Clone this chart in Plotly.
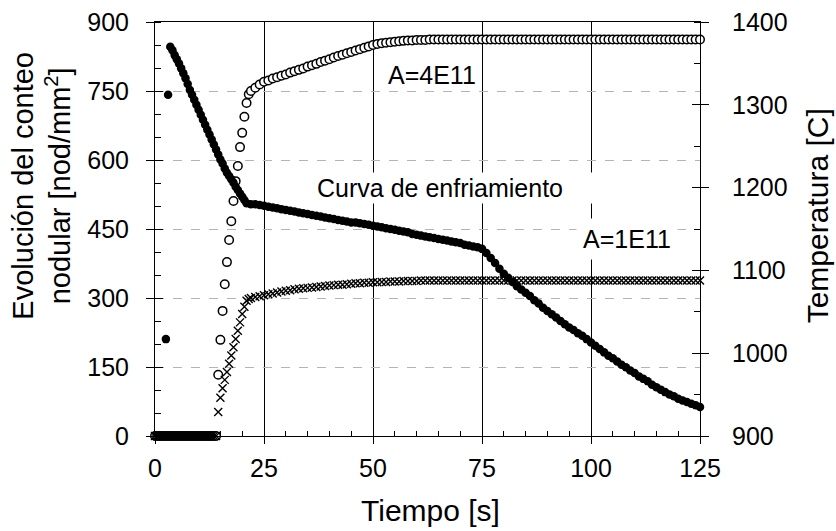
import plotly.graph_objects as go

# ---- data ----
# cooling curve (temperature, right axis)
t_temp_fine = [2.5, 3.0, 3.5, 4.0, 4.5, 5.0, 5.5, 6.0, 6.5, 7.0, 7.5, 8.0, 8.5, 9.0, 9.5,
               10.0, 10.5, 11.0, 11.5, 12.0, 12.5, 13.0, 13.5, 14.0, 14.5, 15.0, 15.5,
               16.0, 16.5, 17.0, 17.5, 18.0, 18.5, 19.0, 19.5, 20.0, 20.5, 21.0]
t_temp_coarse = list(range(22, 126))
t_temp = t_temp_fine + t_temp_coarse
temperature = [
    1017, 1312, 1370, 1366, 1360, 1355, 1350, 1344, 1338, 1332,
    1325, 1318, 1312, 1306, 1300, 1294, 1288, 1282, 1276, 1270,
    1264, 1258, 1252, 1246, 1240, 1234, 1229, 1223, 1218, 1214,
    1210, 1206, 1201, 1197, 1193, 1189, 1185, 1181,
    1180, 1180, 1179, 1178, 1177, 1176, 1175, 1174, 1173, 1172,
    1171, 1170, 1169, 1168, 1167, 1166, 1165, 1164, 1163, 1162,
    1161, 1160, 1159, 1158, 1158, 1157, 1156, 1155, 1154, 1153,
    1152, 1151, 1150, 1149, 1148, 1147, 1146, 1144, 1143, 1142,
    1141, 1140, 1139, 1138, 1137, 1136, 1135, 1134, 1133, 1131,
    1130, 1129, 1128, 1126, 1121, 1115, 1109, 1102, 1096, 1091,
    1086, 1081, 1077, 1073, 1069, 1064, 1060, 1055, 1051, 1047,
    1043, 1039, 1035, 1031, 1028, 1024, 1021, 1017, 1013, 1009,
    1005, 1001, 997, 994, 990, 986, 983, 979, 976, 972,
    969, 966, 962, 959, 956, 953, 950, 948, 945, 943,
    941, 939, 937, 935]

# nodule count series (left axis)
t_nod_fine = [0.0, 0.5, 1.0, 1.5, 2.0, 2.5, 3.0, 3.5, 4.0, 4.5, 5.0, 5.5, 6.0, 6.5, 7.0,
              7.5, 8.0, 8.5, 9.0, 9.5, 10.0, 10.5, 11.0, 11.5, 12.0, 12.5, 13.0, 13.5, 14.0,
              14.5, 15.0, 15.5, 16.0, 16.5, 17.0, 17.5, 18.0, 18.5, 19.0, 19.5, 20.0, 20.5,
              21.0, 21.5]
t_nod_coarse = list(range(22, 126))
t_nod = t_nod_fine + t_nod_coarse

nod_4e11 = [
    0, 0, 0, 0, 0, 0, 0, 0, 0, 0, 0, 0, 0, 0, 0, 0, 0, 0, 0, 0, 0, 0, 0, 0, 0, 0, 0, 0, 0,
    133, 209, 272, 330, 378, 426, 467, 511, 554, 587, 628, 659, 694, 724, 743,
    750, 757, 764, 770, 773, 777, 780, 783, 786, 790,
    793, 796, 799, 803, 806, 809, 813, 816, 819, 823,
    826, 829, 832, 835, 838, 841, 844, 847, 850, 852,
    854, 855, 856, 857, 858, 859, 860, 860, 861, 861,
    861, 862, 862, 862, 862, 862, 862, 862, 862, 862,
    862, 862, 862, 862, 862, 862, 862, 862, 862, 862,
    862, 862, 862, 862, 862, 862, 862, 862, 862, 862,
    862, 862, 862, 862, 862, 862, 862, 862, 862, 862,
    862, 862, 862, 862, 862, 862, 862, 862, 862, 862,
    862, 862, 862, 862, 862, 862, 862, 862, 862, 862,
    862, 862, 862, 862]

nod_1e11 = [
    0, 0, 0, 0, 0, 0, 0, 0, 0, 0, 0, 0, 0, 0, 0, 0, 0, 0, 0, 0, 0, 0, 0, 0, 0, 0, 0, 0, 0,
    52, 83, 104, 122, 139, 157, 175, 193, 211, 229, 247, 265, 281, 294, 298,
    300, 302, 304, 306, 308, 310, 312, 314, 316, 317,
    319, 320, 321, 322, 323, 324, 325, 326, 327, 328,
    329, 329, 330, 331, 332, 332, 333, 333, 334, 334,
    335, 335, 336, 336, 336, 337, 337, 337, 337, 338,
    338, 338, 338, 338, 338, 338, 338, 338, 338, 338,
    338, 338, 338, 338, 338, 338, 338, 338, 338, 338,
    338, 338, 338, 338, 338, 338, 338, 338, 338, 338,
    338, 338, 338, 338, 338, 338, 338, 338, 338, 338,
    338, 338, 338, 338, 338, 338, 338, 338, 338, 338,
    338, 338, 338, 338, 338, 338, 338, 338, 338, 338,
    338, 338, 338, 338]

x_ticks = [0, 25, 50, 75, 100, 125]
y_left_ticks = [0, 150, 300, 450, 600, 750, 900]
y_right_ticks = [900, 1000, 1100, 1200, 1300, 1400]

FONT = "Liberation Sans, Arial, sans-serif"

fig = go.Figure()

fig.add_trace(go.Scatter(
    x=t_temp, y=temperature, mode="markers", yaxis="y2", cliponaxis=False,
    marker=dict(symbol="circle", size=8.5, color="black"),
    showlegend=False))

fig.add_trace(go.Scatter(
    x=t_nod, y=nod_4e11, mode="markers", yaxis="y", cliponaxis=False,
    marker=dict(symbol="circle", size=8.5, color="white",
                line=dict(color="black", width=1.5)),
    showlegend=False))

fig.add_trace(go.Scatter(
    x=t_nod, y=nod_1e11, mode="markers", yaxis="y", cliponaxis=False,
    marker=dict(symbol="x-thin-open", size=8, color="black",
                line=dict(color="black", width=1.4)),
    showlegend=False))

# empty traces to carry the inner-tick overlay axes
fig.add_trace(go.Scatter(x=[], y=[], yaxis="y3", showlegend=False))
fig.add_trace(go.Scatter(x=[], y=[], yaxis="y4", showlegend=False))

tickfont = dict(family=FONT, size=25, color="black")

fig.update_layout(
    width=836, height=531,
    margin=dict(l=155, r=136, t=22, b=95, autoexpand=False),
    paper_bgcolor="white", plot_bgcolor="white",
    font=dict(family=FONT, color="black"),
    xaxis=dict(
        range=[0, 125], tickvals=x_ticks, ticktext=[str(v) for v in x_ticks],
        ticks="outside", ticklen=7, tickwidth=1, tickcolor="black",
        minor=dict(dtick=5, ticks="inside", ticklen=5, tickcolor="black", showgrid=False),
        showgrid=True, gridcolor="black", gridwidth=1,
        showline=True, linecolor="black", linewidth=1, mirror=True,
        zeroline=False, tickfont=tickfont, ticklabelstandoff=3, automargin=False),
    yaxis=dict(
        range=[0, 900], tickvals=y_left_ticks, ticktext=[str(v) for v in y_left_ticks],
        ticks="outside", ticklen=8, tickwidth=1, tickcolor="black",
        minor=dict(dtick=50, ticks="inside", ticklen=6, tickcolor="black", showgrid=False),
        showgrid=True, gridcolor="#b4b4b4", gridwidth=1, griddash="dash",
        showline=True, linecolor="black", linewidth=1,
        zeroline=False, tickfont=tickfont, ticklabelstandoff=12, automargin=False),
    yaxis2=dict(
        range=[900, 1400], tickvals=y_right_ticks, ticktext=[str(v) for v in y_right_ticks],
        overlaying="y", side="right",
        ticks="outside", ticklen=8, tickwidth=1, tickcolor="black",
        minor=dict(dtick=50, ticks="inside", ticklen=6, tickcolor="black", showgrid=False),
        showgrid=False, showline=True, linecolor="black", linewidth=1,
        zeroline=False, tickfont=tickfont, ticklabelstandoff=18, automargin=False),
    yaxis3=dict(
        range=[0, 900], tickvals=y_left_ticks, overlaying="y", side="left",
        ticks="inside", ticklen=8, tickcolor="black", showticklabels=False,
        showgrid=False, showline=False, zeroline=False, automargin=False),
    yaxis4=dict(
        range=[900, 1400], tickvals=y_right_ticks, overlaying="y", side="right",
        ticks="inside", ticklen=8, tickcolor="black", showticklabels=False,
        showgrid=False, showline=False, zeroline=False, automargin=False),
)

def add_text(text, x, y, size, angle=0, bg=None, w=None, h=None):
    kw = dict(text=text, xref="paper", yref="paper", x=x, y=y,
              xanchor="center", yanchor="middle", showarrow=False,
              textangle=angle, font=dict(family=FONT, size=size, color="black"))
    if bg:
        kw.update(bgcolor=bg, borderpad=2)
    if w:
        kw.update(width=w)
    if h:
        kw.update(height=h)
    fig.add_annotation(**kw)

add_text("A=4E11", 0.508, 0.872, 25)
add_text("Curva de enfriamiento", 0.523, 0.599, 25, bg="white", w=300, h=26)
add_text("A=1E11", 0.866, 0.476, 25, bg="white", w=96, h=36)
add_text("Tiempo [s]", 0.506, -0.181, 30)
add_text("Evolución del conteo<br>nodular [nod/mm<sup>2</sup>]", -0.209, 0.605, 29, angle=-90)
add_text("Temperatura [C]", 1.215, 0.531, 30, angle=-90)

fig.write_html("out.html", config={"displayModeBar": False},
               post_script="document.body.style.margin='0';document.body.style.padding='0';")
